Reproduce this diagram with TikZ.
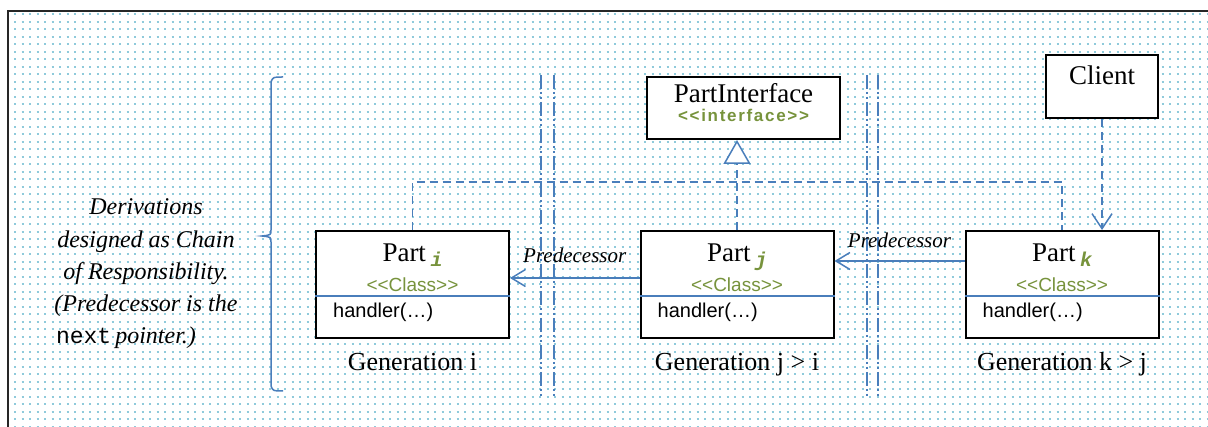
\documentclass[tikz,border=0pt]{standalone}
\usepackage{fontspec}
\setmainfont{Liberation Serif}
\newfontfamily\arialf{Liberation Sans}
\newfontfamily\arialspaced[LetterSpace=10]{Liberation Sans}
\newfontfamily\courf{Liberation Mono}
\usetikzlibrary{arrows.meta,calc}

\definecolor{umlblue}{HTML}{4A7EBB}
\definecolor{stereo}{HTML}{77933C}
\definecolor{griddot}{HTML}{8FCADB}

\newcommand{\fs}[1]{\fontsize{#1}{#1}\selectfont}
\newcommand{\classtitle}[1]{{\fs{27}Part}\,\raisebox{-5pt}{\courf\bfseries\itshape\color{stereo}\fs{20}#1}}

\tikzset{
  classbox/.style={draw=black, line width=2pt, fill=white, minimum width=193pt,
    minimum height=107pt, inner sep=0pt},
  smallbox/.style={draw=black, line width=2pt, fill=white, inner sep=0pt},
  titletext/.style={anchor=base, inner sep=0pt, font=\fs{27}},
  stereotext/.style={anchor=base, inner sep=0pt, text=stereo, font=\arialf\fs{19}},
  methodtext/.style={anchor=base west, inner sep=0pt, font=\arialf\fs{20}},
  gentext/.style={anchor=base, inner sep=0pt, font=\fs{26}},
  predtext/.style={anchor=base, inner sep=0pt, font=\itshape\fs{21}},
  separator/.style={draw=umlblue, line width=1.3pt},
  depline/.style={draw=umlblue, line width=1.5pt, dash pattern=on 8pt off 5pt},
  assoc/.style={draw=umlblue, line width=1.5pt, -{Straight Barb[length=14pt,width=17pt]}},
  boundary/.style={draw=umlblue, line width=1.3pt,
    dash pattern=on 14pt off 3pt on 2pt off 3pt on 2pt off 3pt},
  bracepath/.style={draw=umlblue, line width=1.5pt},
}

\begin{document}
\begin{tikzpicture}[x=1pt, y=-1pt]
\useasboundingbox (0,0) rectangle (1208,427);

% dotted background grid
\foreach \r in {0,...,55}
  \draw[griddot, line width=1.9pt, dash pattern=on 1.9pt off 5.6pt]
    (14.1, 14.3+7.5*\r) -- (1208, 14.3+7.5*\r);

% frame edges
\draw[line width=2pt, black!85] (8,427) -- (8,11) -- (1208,11);

% generation boundaries
\foreach \x in {541,554,867,878}
  \draw[boundary] (\x,75) -- (\x,398);

% brace grouping the generations
\draw[bracepath] (283,77) .. controls (273,77) .. (271,82) -- (271,230)
  .. controls (271,235) .. (262,236) .. controls (271,237) .. (271,242)
  -- (271,386) .. controls (273,391) .. (283,391);

% side note
\node[align=center, inner sep=0pt, font=\itshape\fontsize{24}{32.2}\selectfont] (note) at (146,274)
  {Derivations\\ designed as Chain\\ of Responsibility.\\ (Predecessor is the\\
   {\courf\upshape\fs{23}next}\,pointer.)\hspace*{40pt}};

% interface
\node[smallbox, minimum width=193pt, minimum height=62pt] (pint) at (743.5,108) {};
\node[titletext] (pintt) at ($(pint.north)+(0,27)$) {PartInterface};
\node[stereotext, font=\arialspaced\bfseries\fs{17}] (pints) at ($(pint.north)+(0,46)$) {<{}<interface>{}>};

% client
\node[smallbox, minimum width=112pt, minimum height=63pt] (client) at (1102,86.5) {};
\node[titletext] (clientt) at ($(client.north)+(0,31)$) {Client};

% the three part classes
\foreach \n/\cx/\sub/\gen in {pi/412.5/i/{Generation i},
                              pj/737/j/{Generation j > i},
                              pk/1062/k/{Generation k > j}} {
  \node[classbox] (\n) at (\cx,284.5) {};
  \node[titletext] (\n t) at ($(\n.north)+(0,32)$) {\classtitle{\sub}};
  \node[stereotext] (\n s) at ($(\n.north)+(0,62)$) {<{}<Class>{}>};
  \draw[separator] ($(\n.north west)+(0,66)$) -- ($(\n.north east)+(0,66)$);
  \node[methodtext] (\n m) at ($(\n.north west)+(18,88)$) {handler(…)};
  \node[gentext] (\n g) at ($(\n.south)+(0,32)$) {\gen};
}

% realisation of the interface
\coordinate (bus) at (737,182);
\draw[depline] (pi.north) |- (pk.north |- bus) -- (pk.north);
\draw[depline, -{Triangle[open, length=24pt, width=27pt, fill=white]}]
  (pj.north) -- (pj.north |- pint.south);

% client uses the newest part
\draw[depline, -{Straight Barb[length=15pt,width=20pt]}] (client.south) -- (client.south |- pk.north);

% predecessor links
\draw[assoc] ($(pk.north west)+(0,31)$) -- ($(pj.north east)+(0,31)$)
  node[predtext, pos=0.5, yshift=13pt] (predkj) {Predecessor};
\draw[assoc] ($(pj.north west)+(0,48)$) -- ($(pi.north east)+(0,48)$)
  node[predtext, pos=0.5, yshift=15pt] (predji) {Predecessor};
\end{tikzpicture}
\end{document}
